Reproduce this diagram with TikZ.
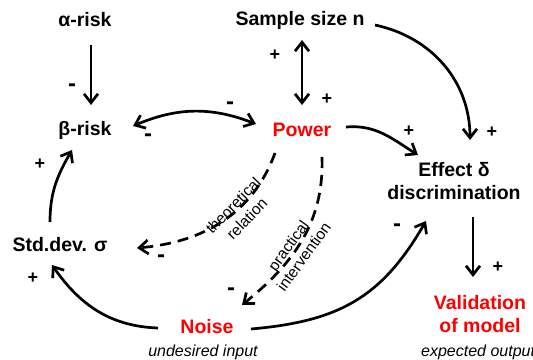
\documentclass[tikz,border=0pt]{standalone}
\usepackage{fontspec}
\setmainfont{Liberation Sans}
\usetikzlibrary{arrows.meta}
\begin{document}
\begin{tikzpicture}[x=1pt,y=1pt,
  lbl/.style={font=\bfseries\fontsize{19.5}{23}\selectfont, align=center, inner sep=0pt},
  hot/.style={lbl, text=red},
  note/.style={font=\itshape\fontsize{16}{19}\selectfont, inner sep=0pt},
  small/.style={font=\fontsize{15.5}{19}\selectfont, align=center, inner sep=0pt},
  plus/.style={font=\bfseries\fontsize{18}{20}\selectfont, inner sep=0pt},
  minus/.style={font=\bfseries\fontsize{24}{26}\selectfont, inner sep=0pt},
  tip/.tip={Straight Barb[length=9pt,width=14pt]},
  conn/.style={line width=2.7pt, -tip},
  both/.style={line width=2.7pt, tip-tip},
  dconn/.style={conn, dash pattern=on 11pt off 7pt},
]
\useasboundingbox (0,0) rectangle (533,359);

% nodes
\node[lbl] (alpha) at (85,339) {α-risk};
\node[lbl] (sample) at (300,339) {Sample size n};
\node[lbl] (beta) at (85,229) {β-risk};
\node[hot] (power) at (302,229) {Power};
\node[lbl] (effect) at (454,178) {Effect δ\\discrimination};
\node[lbl] (stddev) at (60,114) {Std.dev. σ};
\node[hot] (noise) at (207,32) {Noise};
\node[note] (undes) at (203,7) {undesired input};
\node[hot] (valid) at (480,44.5) {Validation\\of model};
\node[note, anchor=west] (expect) at (421,7) {expected output};

% solid connectors
\draw[conn] ([shift={(6,-25)}]alpha.center) -- ([shift={(6,25)}]beta.center);
\draw[both] ([shift={(2,-20)}]sample.center) -- ([shift={(0,25)}]power.center);
\draw[both] ([shift={(48,4)}]beta.center) to[bend left=22] ([shift={(-46,6)}]power.center);
\draw[conn] ([shift={(44,3)}]power.center) to[out=5,in=148] ([shift={(-36,26)}]effect.center);
\draw[conn] ([shift={(75,-5)}]sample.center) to[out=-12,in=90] ([shift={(16,41)}]effect.center);
\draw[conn] ([shift={(19,-36)}]effect.center) -- ([shift={(-7,37.5)}]valid.center);
\draw[conn] ([shift={(-10,23)}]stddev.center) to[out=90,in=-120] ([shift={(-13,-20)}]beta.center);
\draw[conn] ([shift={(-49,-1)}]noise.center) to[out=178,in=-55] ([shift={(-8,-20)}]stddev.center);
\draw[conn] ([shift={(44,-2)}]noise.center) to[out=5,in=-120,looseness=1.1] ([shift={(-28,-40)}]effect.center);

% dashed connectors
\draw[dconn] ([shift={(-27,-23)}]power.center) to[out=-110,in=5] ([shift={(77,-3)}]stddev.center);
\draw[dconn] ([shift={(20,-27)}]power.center) to[out=-88,in=39] ([shift={(35,22)}]noise.center);

% connector labels
\node[small, rotate=46] (theo) at (240,147) {theoretical\\relation};
\node[small, rotate=54] (prac) at (296,108) {practical\\intervention};

% signs
\node[minus] (m1) at (72,271) {-};
\node[minus] (m2) at (230,253) {-};
\node[minus] (m3) at (148,221) {-};
\node[minus] (m4) at (161,100) {-};
\node[minus] (m5) at (231,67) {-};
\node[minus] (m6) at (397,131) {-};
\node[plus] (p1) at (275,304) {+};
\node[plus] (p2) at (327,260) {+};
\node[plus] (p3) at (409,228) {+};
\node[plus] (p4) at (492,227) {+};
\node[plus] (p5) at (40,195) {+};
\node[plus] (p6) at (33,81) {+};
\node[plus] (p7) at (498,92) {+};
\end{tikzpicture}
\end{document}
